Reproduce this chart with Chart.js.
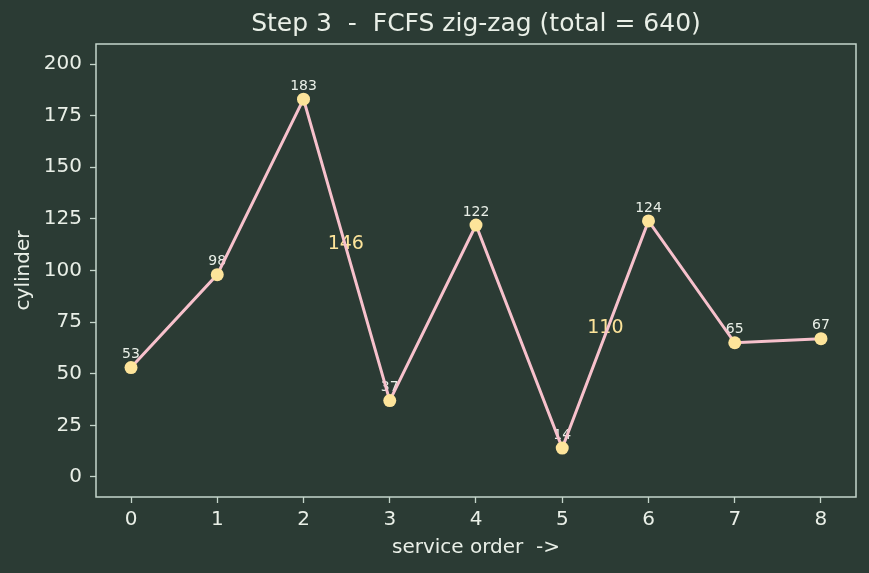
<!DOCTYPE html>
<html>
<head>
<meta charset="utf-8">
<script src="https://cdn.jsdelivr.net/npm/chart.js@4.4.0/dist/chart.umd.min.js"></script>
<style>
  html, body { margin: 0; padding: 0; background: #2b3b34; }
  #wrap { width: 869px; height: 573px; }
</style>
</head>
<body>
<div id="wrap"><canvas id="chart" width="869" height="573"></canvas></div>
<script>
// service order -> cylinder
const order = [0, 1, 2, 3, 4, 5, 6, 7, 8];
const cylinders = [53, 98, 183, 37, 122, 14, 124, 65, 67];
const yTicks = [0, 25, 50, 75, 100, 125, 150, 175, 200];
// the two big jumps get a distance label
const jumpX = [2.49, 5.5];
const jumpY = [113, 72];
const jumpText = ['146', '110'];

const bg = '#2b3b34';
const fg = '#e9efe7';
const frame = '#c5d6cb';
const yellow = '#fde49a';

const textPlugin = {
  id: 'texts',
  beforeDraw(chart) {
    const c = chart.ctx;
    c.save();
    c.fillStyle = bg;
    c.fillRect(0, 0, chart.width, chart.height);
    c.restore();
  },
  beforeDatasetsDraw(chart) {
    const c = chart.ctx;
    const xs = chart.scales.x, ys = chart.scales.y;
    c.save();
    c.textAlign = 'center';
    c.textBaseline = 'middle';
    c.fillStyle = fg;
    c.font = '14px "DejaVu Sans"';
    cylinders.forEach((v, i) => {
      c.fillText(String(v), xs.getPixelForValue(order[i]), ys.getPixelForValue(v) - 13);
    });
    c.fillStyle = yellow;
    c.font = '19px "DejaVu Sans"';
    jumpText.forEach((t, i) => {
      c.fillText(t, xs.getPixelForValue(jumpX[i]), ys.getPixelForValue(jumpY[i]));
    });
    c.restore();
  },
  afterDraw(chart) {
    const c = chart.ctx;
    const a = chart.chartArea;
    c.save();
    c.strokeStyle = frame;
    c.lineWidth = 1.5;
    c.strokeRect(a.left, a.top, a.right - a.left, a.bottom - a.top);
    c.fillStyle = fg;
    c.textAlign = 'center';
    c.textBaseline = 'middle';
    c.font = '25px "DejaVu Sans"';
    c.fillText('Step 3  -  FCFS zig-zag (total = 640)', (a.left + a.right) / 2, 24);
    c.restore();
  }
};

new Chart(document.getElementById('chart'), {
  type: 'line',
  data: {
    datasets: [{
      data: order.map((x, i) => ({ x: x, y: cylinders[i] })),
      borderColor: '#f7c1cc',
      borderWidth: 3,
      pointRadius: 6.5,
      pointHoverRadius: 6.5,
      pointBackgroundColor: yellow,
      pointBorderWidth: 0,
      tension: 0
    }]
  },
  options: {
    responsive: false,
    animation: false,
    layout: { padding: { top: 44, right: 13, left: 0, bottom: 0 } },
    plugins: { legend: { display: false }, tooltip: { enabled: false } },
    scales: {
      x: {
        type: 'linear',
        min: -0.406,
        max: 8.406,
        afterBuildTicks: s => { s.ticks = order.map(v => ({ value: v })); },
        afterFit: s => { s.height = 76; },
        grid: { drawOnChartArea: false, drawTicks: true, tickLength: 6, tickColor: frame, tickWidth: 1.3 },
        border: { display: false },
        ticks: { color: fg, font: { size: 20, family: 'DejaVu Sans' }, padding: 5, maxRotation: 0 },
        title: { display: true, text: 'service order  ->', color: fg, font: { size: 20, family: 'DejaVu Sans' }, padding: { top: 0, bottom: 13 } }
      },
      y: {
        min: -9.7,
        max: 209.7,
        afterBuildTicks: s => { s.ticks = yTicks.map(v => ({ value: v })); },
        afterFit: s => { s.width = 96; },
        grid: { drawOnChartArea: false, drawTicks: true, tickLength: 6, tickColor: frame, tickWidth: 1.3 },
        border: { display: false },
        ticks: { color: fg, font: { size: 20, family: 'DejaVu Sans' }, padding: 8 },
        title: { display: true, text: 'cylinder', color: fg, font: { size: 20, family: 'DejaVu Sans' }, padding: { top: 12, bottom: 0 } }
      }
    }
  },
  plugins: [textPlugin]
});
</script>
</body>
</html>
